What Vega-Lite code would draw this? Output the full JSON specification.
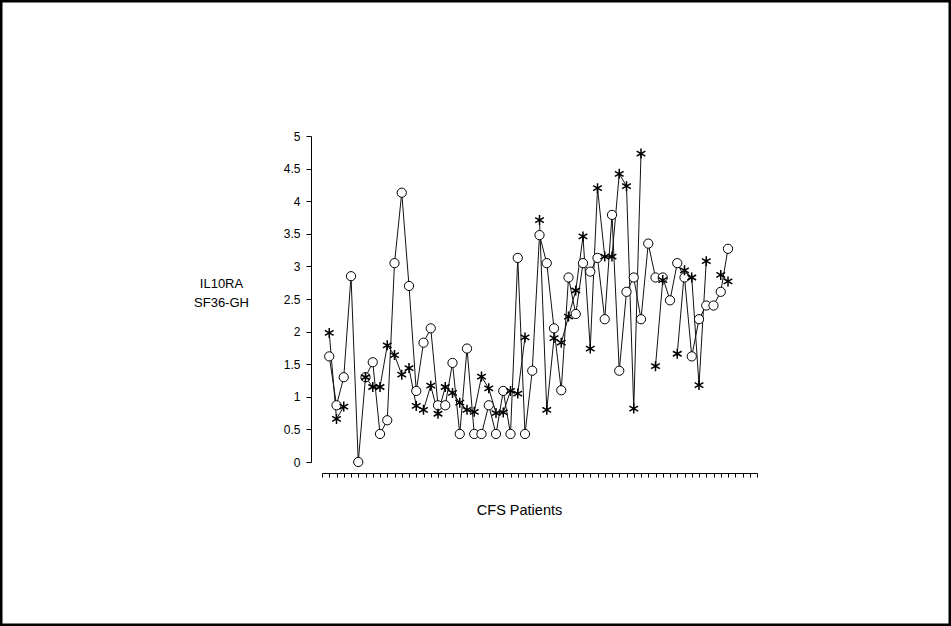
{
  "$schema": "https://vega.github.io/schema/vega-lite/v6.json",
  "width": 951,
  "height": 626,
  "autosize": {"type": "none"},
  "padding": 0,
  "background": "white",
  "config": {
    "view": {"stroke": "black", "strokeWidth": 5},
    "font": "Liberation Sans",
    "axis": {"grid": false, "domainColor": "#000000", "tickColor": "#000000", "labelColor": "#000000", "titleColor": "#000000", "titleFontWeight": "normal", "titleFont": "Liberation Sans", "labelFont": "Liberation Sans"}
  },
  "data": {
    "values": [
      {"p": 1, "IL10RA": 1.62, "SF36-GH": 1.98},
      {"p": 2, "IL10RA": 0.87, "SF36-GH": 0.66},
      {"p": 3, "IL10RA": 1.30, "SF36-GH": 0.85},
      {"p": 4, "IL10RA": 2.85, "SF36-GH": null},
      {"p": 5, "IL10RA": 0.00, "SF36-GH": null},
      {"p": 6, "IL10RA": 1.30, "SF36-GH": 1.30},
      {"p": 7, "IL10RA": 1.53, "SF36-GH": 1.15},
      {"p": 8, "IL10RA": 0.43, "SF36-GH": 1.15},
      {"p": 9, "IL10RA": 0.64, "SF36-GH": 1.79},
      {"p": 10, "IL10RA": 3.05, "SF36-GH": 1.64},
      {"p": 11, "IL10RA": 4.13, "SF36-GH": 1.34},
      {"p": 12, "IL10RA": 2.70, "SF36-GH": 1.44},
      {"p": 13, "IL10RA": 1.09, "SF36-GH": 0.86},
      {"p": 14, "IL10RA": 1.83, "SF36-GH": 0.80},
      {"p": 15, "IL10RA": 2.05, "SF36-GH": 1.17},
      {"p": 16, "IL10RA": 0.87, "SF36-GH": 0.74},
      {"p": 17, "IL10RA": 0.87, "SF36-GH": 1.15},
      {"p": 18, "IL10RA": 1.52, "SF36-GH": 1.06},
      {"p": 19, "IL10RA": 0.43, "SF36-GH": 0.91},
      {"p": 20, "IL10RA": 1.74, "SF36-GH": 0.80},
      {"p": 21, "IL10RA": 0.43, "SF36-GH": 0.77},
      {"p": 22, "IL10RA": 0.43, "SF36-GH": 1.31},
      {"p": 23, "IL10RA": 0.87, "SF36-GH": 1.13},
      {"p": 24, "IL10RA": 0.43, "SF36-GH": 0.75},
      {"p": 25, "IL10RA": 1.09, "SF36-GH": 0.76},
      {"p": 26, "IL10RA": 0.43, "SF36-GH": 1.09},
      {"p": 27, "IL10RA": 3.13, "SF36-GH": 1.05},
      {"p": 28, "IL10RA": 0.43, "SF36-GH": 1.91},
      {"p": 29, "IL10RA": 1.40, "SF36-GH": null},
      {"p": 30, "IL10RA": 3.48, "SF36-GH": 3.71},
      {"p": 31, "IL10RA": 3.05, "SF36-GH": 0.80},
      {"p": 32, "IL10RA": 2.05, "SF36-GH": 1.90},
      {"p": 33, "IL10RA": 1.10, "SF36-GH": 1.83},
      {"p": 34, "IL10RA": 2.83, "SF36-GH": 2.23},
      {"p": 35, "IL10RA": 2.27, "SF36-GH": 2.63},
      {"p": 36, "IL10RA": 3.05, "SF36-GH": 3.46},
      {"p": 37, "IL10RA": 2.92, "SF36-GH": 1.74},
      {"p": 38, "IL10RA": 3.13, "SF36-GH": 4.20},
      {"p": 39, "IL10RA": 2.19, "SF36-GH": 3.15},
      {"p": 40, "IL10RA": 3.79, "SF36-GH": 3.15},
      {"p": 41, "IL10RA": 1.40, "SF36-GH": 4.42},
      {"p": 42, "IL10RA": 2.61, "SF36-GH": 4.23},
      {"p": 43, "IL10RA": 2.83, "SF36-GH": 0.82},
      {"p": 44, "IL10RA": 2.19, "SF36-GH": 4.73},
      {"p": 45, "IL10RA": 3.35, "SF36-GH": null},
      {"p": 46, "IL10RA": 2.83, "SF36-GH": 1.47},
      {"p": 47, "IL10RA": 2.83, "SF36-GH": 2.79},
      {"p": 48, "IL10RA": 2.48, "SF36-GH": null},
      {"p": 49, "IL10RA": 3.05, "SF36-GH": 1.66},
      {"p": 50, "IL10RA": 2.83, "SF36-GH": 2.94},
      {"p": 51, "IL10RA": 1.62, "SF36-GH": 2.83},
      {"p": 52, "IL10RA": 2.19, "SF36-GH": 1.18},
      {"p": 53, "IL10RA": 2.40, "SF36-GH": 3.08},
      {"p": 54, "IL10RA": 2.40, "SF36-GH": null},
      {"p": 55, "IL10RA": 2.61, "SF36-GH": 2.87},
      {"p": 56, "IL10RA": 3.27, "SF36-GH": 2.77}
    ]
  },
  "transform": [{"fold": ["IL10RA", "SF36-GH"], "as": ["series", "value"]}],
  "encoding": {
    "x": {
      "field": "p",
      "type": "quantitative",
      "scale": {"domain": [0, 60], "range": [322, 757], "nice": false, "zero": false},
      "axis": {
        "orient": "bottom",
        "offset": -153,
        "tickCount": 60,
        "labels": false,
        "tickSize": 4,
        "domainWidth": 1,
        "tickWidth": 1,
        "title": "CFS Patients",
        "titleFontSize": 14.5,
        "titleX": 519,
        "titleY": 41,
        "titleAlign": "center",
        "titleBaseline": "alphabetic"
      }
    },
    "y": {
      "field": "value",
      "type": "quantitative",
      "scale": {"domain": [0, 5], "range": [462, 136], "nice": false},
      "axis": {
        "orient": "left",
        "offset": -311,
        "values": [0, 0.5, 1, 1.5, 2, 2.5, 3, 3.5, 4, 4.5, 5],
        "format": "~g",
        "tickSize": 5,
        "labelPadding": 6,
        "labelFontSize": 12,
        "title": ["IL10RA", "SF36-GH"],
        "titleAngle": 0,
        "titleFontSize": 13,
        "titleLineHeight": 19,
        "titleX": -90,
        "titleY": 287,
        "titleAlign": "center",
        "titleBaseline": "alphabetic"
      }
    }
  },
  "layer": [
    {
      "mark": {"type": "line", "color": "#111111", "strokeWidth": 1, "invalid": "break-paths-show-domains"},
      "encoding": {"detail": {"field": "series"}}
    },
    {
      "mark": {"type": "point", "filled": true, "fill": "white", "stroke": "black", "opacity": 1},
      "encoding": {
        "shape": {
          "field": "series",
          "scale": {"domain": ["IL10RA", "SF36-GH"], "range": ["circle", "M0,-1L0,1M-0.87,-0.5L0.87,0.5M-0.87,0.5L0.87,-0.5"]},
          "legend": null
        },
        "size": {
          "field": "series",
          "scale": {"domain": ["IL10RA", "SF36-GH"], "range": [85, 100]},
          "legend": null
        },
        "strokeWidth": {
          "field": "series",
          "scale": {"domain": ["IL10RA", "SF36-GH"], "range": [1, 1.5]},
          "legend": null
        }
      }
    }
  ]
}
